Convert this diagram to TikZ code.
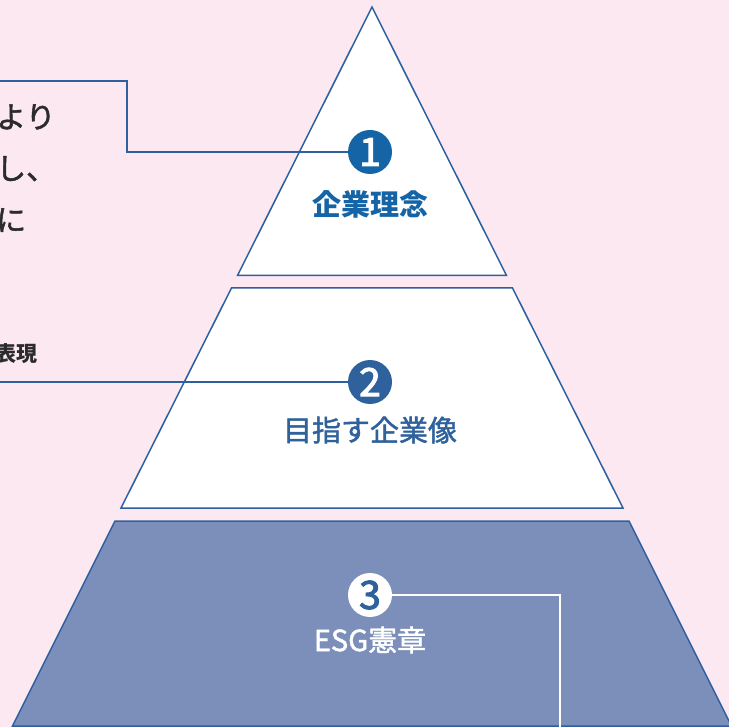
\documentclass[tikz,border=0pt]{standalone}
\usepackage{fontspec}
\newfontfamily\cjk{Noto Sans CJK JP}
\newfontfamily\cjkm[FakeBold=1.6]{Noto Sans CJK JP}
\newfontfamily\cjkd[FakeBold=2.6]{Noto Sans CJK JP}
\definecolor{bgpink}{HTML}{FCE8F1}
\definecolor{edgeblue}{HTML}{2E5F9E}
\definecolor{darkblue}{HTML}{1565A6}
\definecolor{midblue}{HTML}{2F619D}
\definecolor{baseblue}{HTML}{7B8FBA}
\definecolor{txtgray}{HTML}{2B2B2B}
\tikzset{
  tier/.style={draw=edgeblue, line width=1.5pt, line join=miter},
  conn/.style={draw=edgeblue, line width=1.5pt},
  connw/.style={draw=white, line width=1.5pt},
  numcirc/.style={circle, minimum size=44pt, inner sep=0pt, font=\cjkd\fontsize{39}{39}\selectfont},
  label/.style={inner sep=0pt, font=\cjkm\fontsize{29}{34}\selectfont},
  sidetext/.style={inner sep=0pt, anchor=base west, text=txtgray, font=\cjkm\fontsize{30}{36}\selectfont}
}
\begin{document}
\begin{tikzpicture}[x=1pt,y=-1pt]
\useasboundingbox (0,0) rectangle (729,727);
\clip (0,0) rectangle (729,727);
\fill[bgpink] (0,0) rectangle (729,727);
% tiers
\path[tier, fill=white] (372,7) -- (506.5,275.5) -- (237.5,275.5) -- cycle;
\path[tier, fill=white] (231.5,288) -- (512.5,288) -- (623,508) -- (121,508) -- cycle;
\path[tier, fill=baseblue] (115,521) -- (629,521) -- (731.5,726) -- (12.5,726) -- cycle;
% circles
\node[numcirc, fill=darkblue, text=white] (c1) at (370,152) {1};
\node[numcirc, fill=midblue, text=white] (c2) at (370,382) {2};
\node[numcirc, fill=white, text=midblue] (c3) at (370,595) {3};
% connectors
\coordinate (s1) at (-5,81);
\coordinate (k1) at (127,81);
\coordinate (s2) at (-5,382);
\coordinate (e3) at (560,735);
\draw[conn] (s1) -- (k1) |- (c1);
\draw[conn] (s2) -- (c2);
\draw[connw] (c3) -| (e3);
% tier labels
\node[label, text=darkblue, font=\cjk\bfseries\fontsize{29}{34}\selectfont] (t1) at (370,204) {企業理念};
\node[label, text=midblue] (t2) at (370,430) {目指す企業像};
\node[label, text=white] (t3) at (370,640) {ESG憲章};
% cut-off side texts
\node[sidetext] (l1) at (-4,128) {より};
\node[sidetext] (l2) at (-4,179.5) {し、};
\node[sidetext] (l3) at (-4,231) {に};
\node[sidetext, font=\cjk\bfseries\fontsize{21}{25}\selectfont] (l4) at (-5,362) {表現};
\end{tikzpicture}
\end{document}
